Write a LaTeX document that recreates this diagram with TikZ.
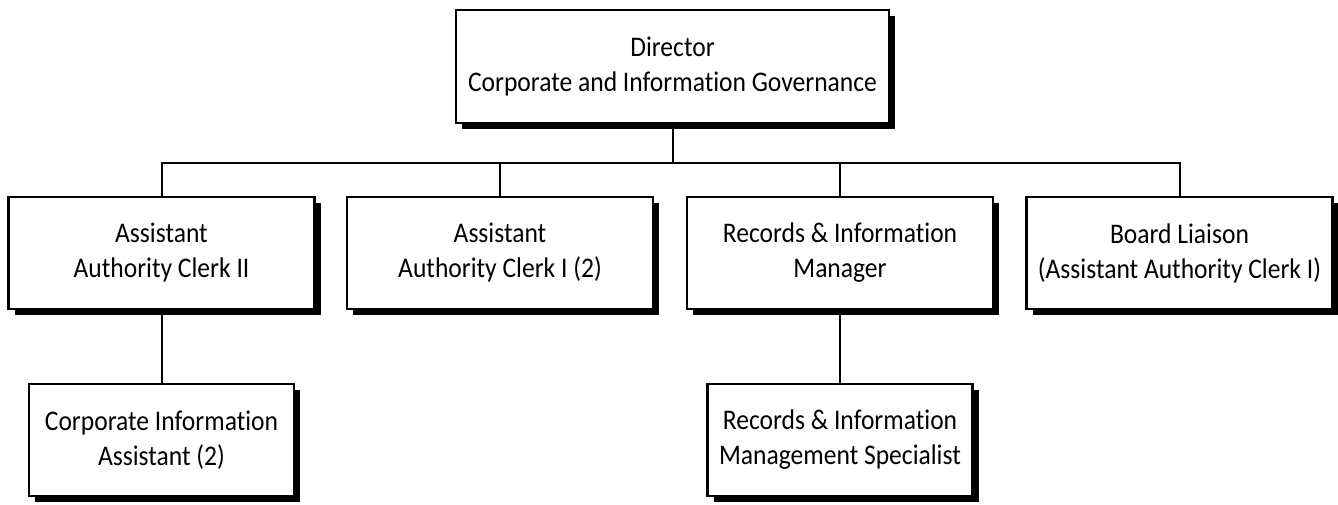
\documentclass[tikz,border=0pt]{standalone}
\usepackage{fontspec}
\setmainfont{Carlito}[FakeStretch=0.9,RawFeature=-liga]
\usetikzlibrary{shadows}

\tikzset{
  post/.style={draw,fill=white,line width=1.1pt,align=center,
    font=\fontsize{14.2}{17.5}\selectfont,
    drop shadow={shadow xshift=3pt,shadow yshift=-3pt,opacity=1,fill=black}},
  wide/.style={post,minimum width=153pt,minimum height=56pt},
  low/.style={post,minimum width=132.5pt,minimum height=56pt},
  link/.style={line width=1pt}
}

\begin{document}
\begin{tikzpicture}[x=0.5pt,y=0.5pt]
\useasboundingbox (0,0) rectangle (1338,504);
\node[post,minimum width=216.5pt,minimum height=56.5pt] (dir) at (672.5,437.5) {Director\\Corporate and Information Governance};
\node[wide] (clerkii) at (161.5,251) {Assistant\\Authority Clerk II};
\node[wide] (clerki) at (500,251) {Assistant\\Authority Clerk I (2)};
\node[wide] (rim) at (840,251) {Records \& Information\\Manager};
\node[wide] (board) at (1179.5,251) {Board Liaison\\(Assistant Authority Clerk I)};
\node[low] (cia) at (161.5,64) {Corporate Information\\Assistant (2)};
\node[low] (rims) at (840,64) {Records \& Information\\Management Specialist};
\coordinate (bus) at (672.5,341);
\draw[link] (dir.south) -- (bus);
\draw[link] (clerkii.north) -- (clerkii.north |- bus) -- (board.north |- bus) -- (board.north);
\draw[link] (clerki.north) -- (clerki.north |- bus);
\draw[link] (rim.north) -- (rim.north |- bus);
\draw[link] (clerkii.south) -- (cia.north);
\draw[link] (rim.south) -- (rims.north);
\end{tikzpicture}
\end{document}
